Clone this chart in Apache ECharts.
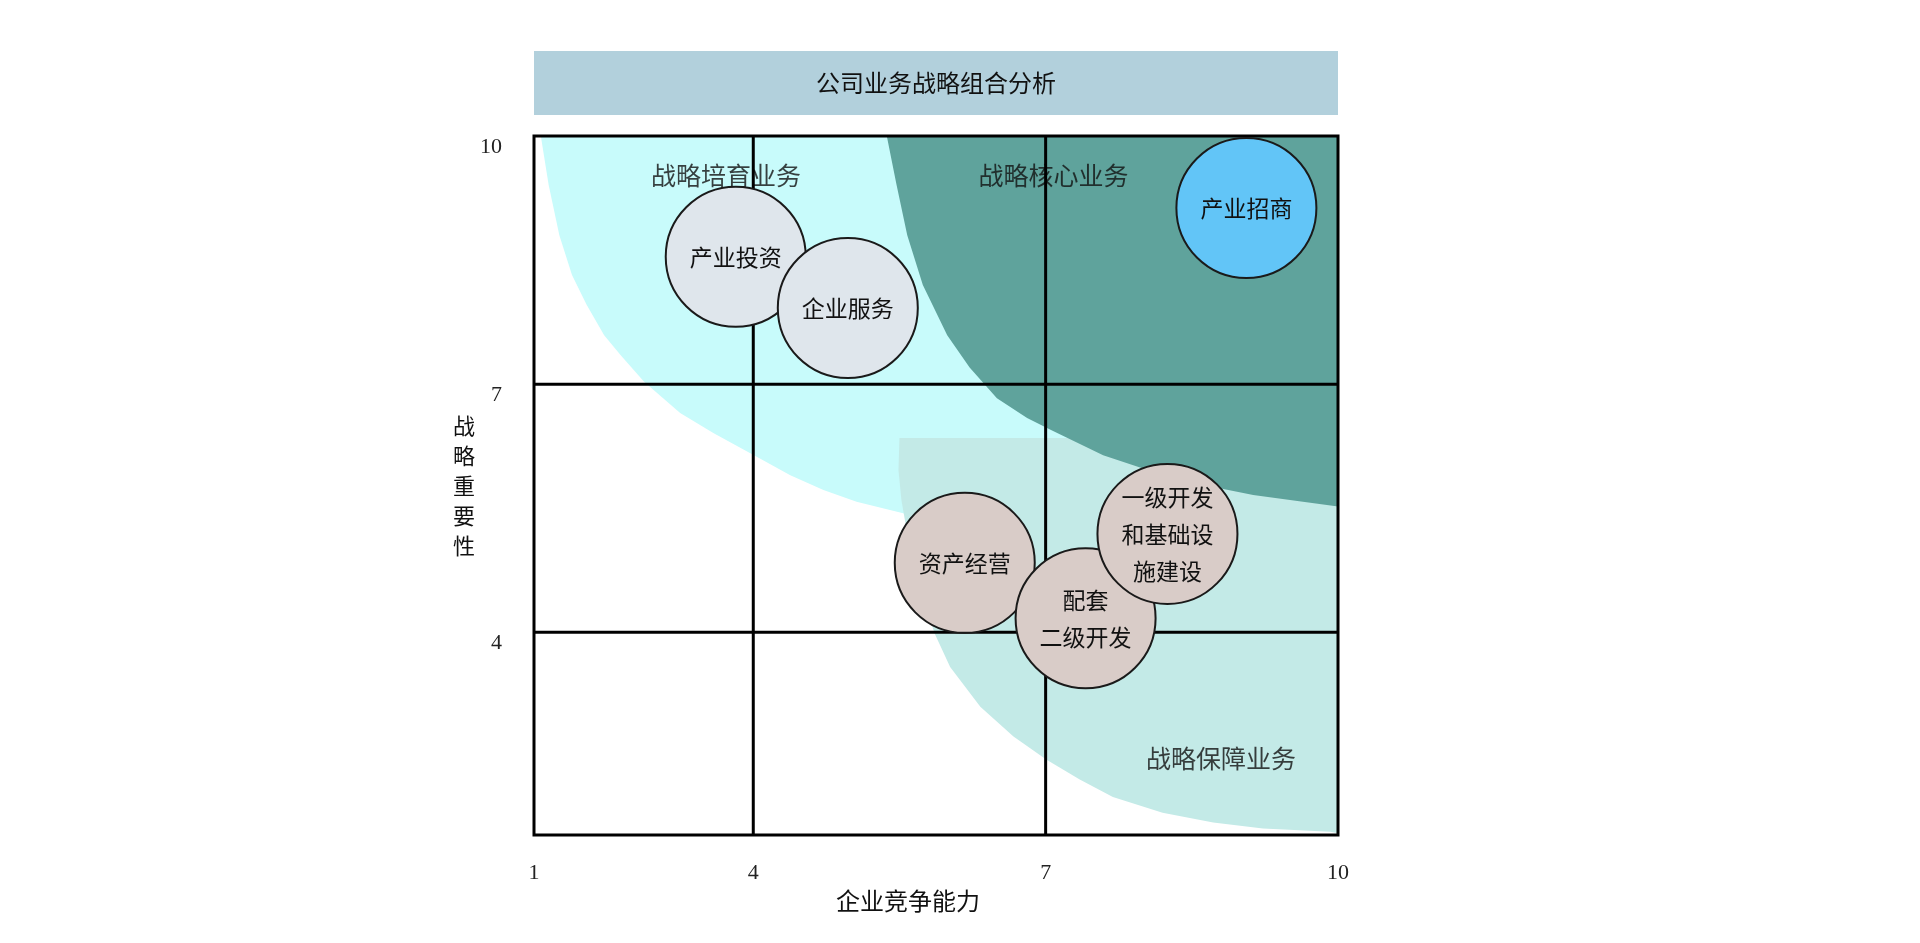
<!DOCTYPE html>
<html>
<head>
<meta charset="utf-8">
<title>公司业务战略组合分析</title>
<script src="https://cdn.jsdelivr.net/npm/echarts@6/dist/echarts.min.js"></script>
<style>
  html, body { margin: 0; padding: 0; background: #fff; }
  #chart { width: 1920px; height: 943px; }
</style>
</head>
<body>
<div id="chart"></div>
<script>
// 坐标轴范围（原图 1~4 一格比其他格窄，所以起点不是 1）
const xMin = 1.75, xMax = 10;
const yMin = 1.55, yMax = 10;
const xTickValues = [xMin, 4, 7, 10];
const xTickLabels = ['1', '4', '7', '10'];
const yTickValues = [4, 7, 10];
const dividerX = [4, 7];
const dividerY = [4, 7];

// 业务气泡
const businessNames = ['产业投资', '企业服务', '产业招商', '资产经营', '配套\n二级开发', '一级开发\n和基础设\n施建设'];
const businessX = [3.82, 4.97, 9.06, 6.17, 7.41, 8.25];
const businessY = [8.54, 7.92, 9.13, 4.84, 4.17, 5.19];
const businessColors = ['#dfe6ec', '#dfe6ec', '#62c5f7', '#d9ccc8', '#d9ccc8', '#d9ccc8'];

// 区域名称
const zoneNames = ['战略培育业务', '战略核心业务', '战略保障业务'];
const zoneX = [3.72, 7.08, 8.80];
const zoneY = [9.52, 9.52, 2.48];

// 区域边界（数据坐标）
const cultivateZone = [
  [1.82, 10], [1.90, 9.41], [2.01, 8.80], [2.14, 8.32], [2.29, 7.96], [2.47, 7.59],
  [2.64, 7.35], [2.88, 7.03], [3.25, 6.65], [3.59, 6.41], [4.04, 6.12], [4.38, 5.90],
  [4.72, 5.72], [5.06, 5.58], [5.60, 5.42], [10, 5.42], [10, 10]
];
const supportZone = [
  [5.50, 6.35], [10, 6.35], [10, 1.57], [9.92, 1.59], [9.23, 1.63], [8.72, 1.70],
  [8.20, 1.82], [7.69, 2.01], [7.35, 2.22], [7.01, 2.46], [6.67, 2.74], [6.33, 3.10],
  [6.02, 3.58], [5.86, 3.99], [5.72, 4.51], [5.60, 5.06], [5.52, 5.60], [5.49, 5.96]
];
const coreZone = [
  [5.37, 10], [5.47, 9.41], [5.58, 8.80], [5.74, 8.20], [5.99, 7.59], [6.22, 7.20],
  [6.50, 6.83], [6.81, 6.59], [7.05, 6.45], [7.59, 6.14], [8.10, 5.94], [8.62, 5.78],
  [9.13, 5.66], [9.64, 5.58], [10, 5.52], [10, 10]
];

const cnFont = '"Noto Sans CJK SC", "Noto Sans", sans-serif';
const numFont = '"Liberation Serif", "DejaVu Serif", serif';

function zoneSeries(name, points, color) {
  return {
    name: name,
    type: 'custom',
    z: 1,
    silent: true,
    data: [0],
    renderItem: function (params, api) {
      return {
        type: 'polygon',
        shape: { points: points.map(function (p) { return api.coord(p); }) },
        style: { fill: color }
      };
    }
  };
}

const chart = echarts.init(document.getElementById('chart'));

const option = {
  backgroundColor: '#ffffff',
  animation: false,
  grid: { left: 534, right: 582, top: 136, bottom: 108 },
  graphic: [
    {
      type: 'rect',
      left: 534,
      top: 51,
      shape: { width: 804, height: 64 },
      style: { fill: '#b2d0dc' }
    },
    {
      type: 'text',
      x: 936,
      y: 83,
      style: {
        text: '公司业务战略组合分析',
        fill: '#111',
        font: '24px ' + cnFont,
        textAlign: 'center',
        textVerticalAlign: 'middle'
      }
    }
  ],
  xAxis: {
    type: 'value',
    min: xMin,
    max: xMax,
    name: '企业竞争能力',
    nameLocation: 'middle',
    nameGap: 50,
    nameTextStyle: { fontFamily: cnFont, fontSize: 24, color: '#111', padding: [0, 56, 0, 0] },
    axisLine: { show: false },
    axisTick: { show: false },
    splitLine: { show: false },
    axisLabel: {
      customValues: xTickValues,
      formatter: function (v) {
        const i = xTickValues.indexOf(v);
        return i >= 0 ? xTickLabels[i] : '';
      },
      margin: 27,
      fontFamily: numFont,
      fontSize: 22,
      color: '#222'
    }
  },
  yAxis: {
    type: 'value',
    min: yMin,
    max: yMax,
    name: '战\n略\n重\n要\n性',
    nameLocation: 'middle',
    nameRotate: 0,
    nameGap: 54,
    nameTextStyle: { fontFamily: cnFont, fontSize: 22, lineHeight: 30, color: '#111' },
    axisLine: { show: false },
    axisTick: { show: false },
    splitLine: { show: false },
    axisLabel: {
      customValues: yTickValues,
      margin: 32,
      verticalAlign: 'top',
      fontFamily: numFont,
      fontSize: 22,
      color: '#222'
    }
  },
  series: [
    zoneSeries('战略培育区', cultivateZone, '#c8fbfb'),
    zoneSeries('战略保障区', supportZone, '#c3eae7'),
    zoneSeries('战略核心区', coreZone, '#5fa39c'),
    {
      name: '区域名称',
      type: 'scatter',
      z: 2,
      silent: true,
      symbolSize: 1,
      itemStyle: { color: 'transparent' },
      data: zoneNames.map(function (n, i) { return { name: n, value: [zoneX[i], zoneY[i]] }; }),
      label: {
        show: true,
        position: 'inside',
        formatter: '{b}',
        fontFamily: cnFont,
        fontSize: 25,
        color: '#111'
      }
    },
    {
      name: '网格',
      type: 'custom',
      z: 3,
      silent: true,
      data: [0],
      renderItem: function (params, api) {
        const children = [];
        const lt = api.coord([xMin, yMax]);
        const rb = api.coord([xMax, yMin]);
        children.push({
          type: 'rect',
          shape: { x: lt[0], y: lt[1], width: rb[0] - lt[0], height: rb[1] - lt[1] },
          style: { fill: 'none', stroke: '#000', lineWidth: 3 }
        });
        dividerX.forEach(function (v) {
          const a = api.coord([v, yMax]), b = api.coord([v, yMin]);
          children.push({ type: 'line', shape: { x1: a[0], y1: a[1], x2: b[0], y2: b[1] }, style: { stroke: '#000', lineWidth: 3 } });
        });
        dividerY.forEach(function (v) {
          const a = api.coord([xMin, v]), b = api.coord([xMax, v]);
          children.push({ type: 'line', shape: { x1: a[0], y1: a[1], x2: b[0], y2: b[1] }, style: { stroke: '#000', lineWidth: 3 } });
        });
        return { type: 'group', children: children };
      }
    },
    {
      name: '业务',
      type: 'scatter',
      z: 5,
      symbolSize: 140,
      data: businessNames.map(function (n, i) {
        return { name: n, value: [businessX[i], businessY[i]], itemStyle: { color: businessColors[i] } };
      }),
      itemStyle: { borderColor: '#1a1a1a', borderWidth: 2, opacity: 1 },
      label: {
        show: true,
        position: 'inside',
        formatter: '{b}',
        fontFamily: cnFont,
        fontSize: 23,
        lineHeight: 37,
        color: '#111'
      }
    }
  ]
};

chart.setOption(option);
window.addEventListener('resize', function () { chart.resize(); });
</script>
</body>
</html>
